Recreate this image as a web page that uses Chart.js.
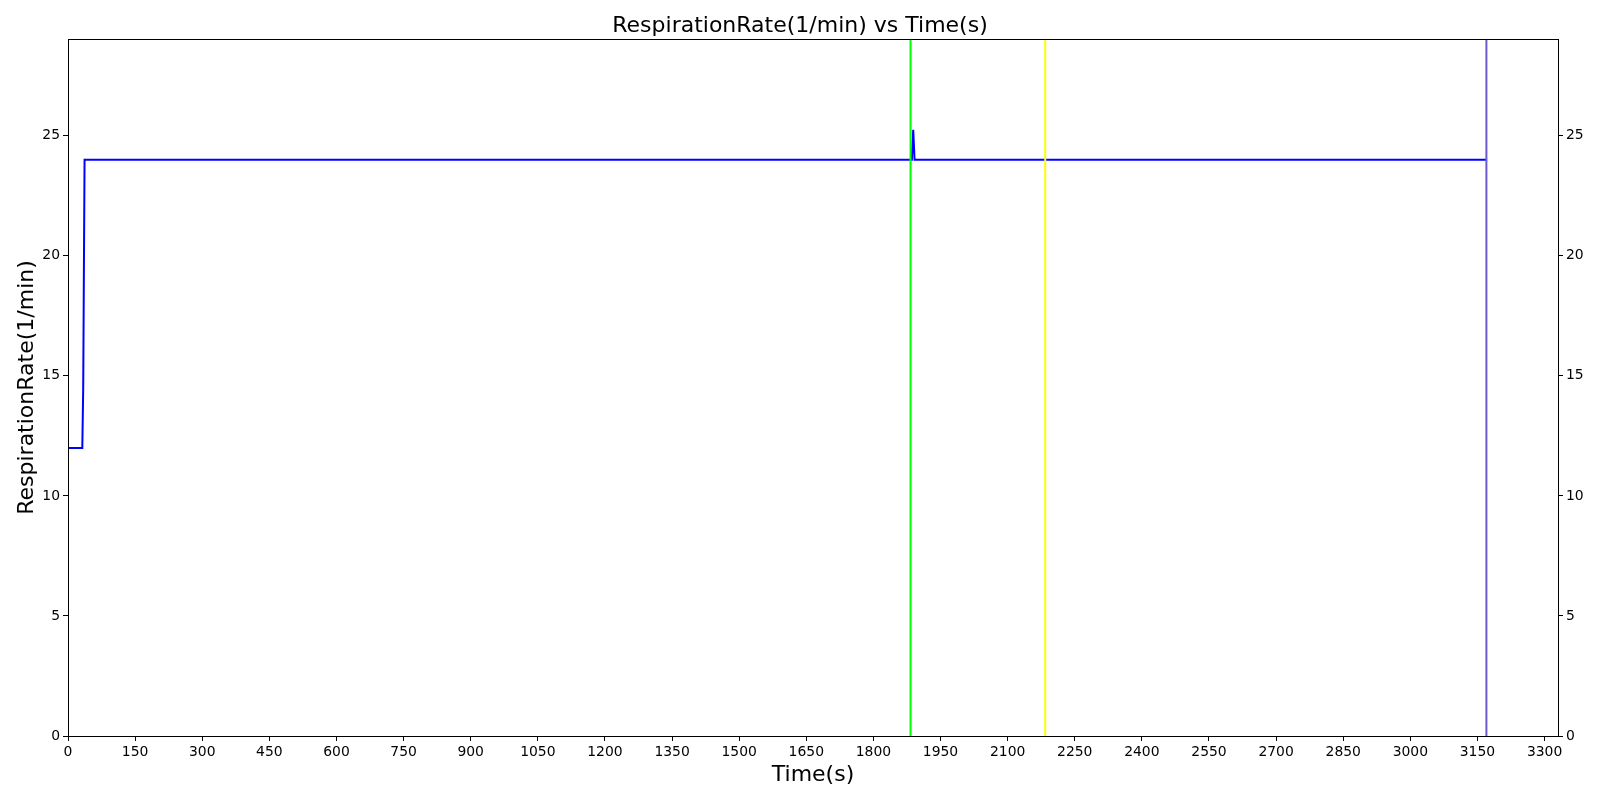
<!DOCTYPE html>
<html>
<head>
<meta charset="utf-8">
<script src="https://cdn.jsdelivr.net/npm/chart.js"></script>
<style>
  html, body { margin: 0; padding: 0; background: #fff; }
  #wrap { width: 1600px; height: 800px; }
</style>
</head>
<body>
<div id="wrap"><canvas id="respChart"></canvas></div>
<script>
// ============================================================
// data
// ============================================================
const timeS = [0, 32, 34, 37, 1886, 1889, 1892, 3170];
const respRate = [12, 12, 14.5, 24, 24, 25.25, 24, 24];

const eventTimes = [1883, 2184, 3170];
const eventColors = ['#00ff00', '#ffff00', '#6a5acd'];

const xTicks = [0, 150, 300, 450, 600, 750, 900, 1050, 1200, 1350, 1500, 1650,
    1800, 1950, 2100, 2250, 2400, 2550, 2700, 2850, 3000, 3150, 3300];
const yTicks = [0, 5, 10, 15, 20, 25];

const xMax = 3330;
const yMax = 29.03;

Chart.defaults.font.family = 'DejaVu Sans';
Chart.defaults.color = '#000';

// frame around the plot area (matplotlib style box)
const frameBox = {
    id: 'frameBox',
    afterDraw(chart) {
        const { ctx, chartArea: a } = chart;
        ctx.save();
        ctx.strokeStyle = '#000';
        ctx.lineWidth = 1;
        ctx.strokeRect(a.left + 0.5, a.top + 0.5, a.right - a.left, a.bottom - a.top);
        ctx.restore();
    }
};

const mainSeries = {
    label: 'RespirationRate(1/min)',
    data: timeS.map((t, i) => ({ x: t, y: respRate[i] })),
    borderColor: '#0000ff',
    borderWidth: 2,
    pointRadius: 0,
    tension: 0,
    yAxisID: 'y'
};

const eventLines = eventTimes.map((t, i) => ({
    label: 'event ' + (i + 1),
    data: [{ x: t, y: 0 }, { x: t, y: yMax }],
    borderColor: eventColors[i],
    borderWidth: 2,
    pointRadius: 0,
    yAxisID: 'y'
}));

const tickFont = { size: 13.9 };
const plain = v => String(v);

new Chart(document.getElementById('respChart'), {
    type: 'line',
    data: { datasets: [...eventLines, mainSeries] },
    plugins: [frameBox],
    options: {
        responsive: true,
        maintainAspectRatio: false,
        animation: false,
        layout: { padding: 0 },
        plugins: {
            legend: { display: false },
            tooltip: { enabled: false },
            title: {
                display: true,
                text: 'RespirationRate(1/min) vs Time(s)',
                font: { size: 22, weight: 'normal' },
                padding: { top: 12.6, bottom: 0 }
            }
        },
        scales: {
            x: {
                type: 'linear',
                min: 0,
                max: xMax,
                afterBuildTicks: s => { s.ticks = xTicks.map(v => ({ value: v })); },
                afterFit: s => { s.height = 64; },
                ticks: { autoSkip: false, maxRotation: 0, font: tickFont, padding: 3, callback: plain },
                grid: { drawOnChartArea: false, tickLength: 5, tickColor: '#000' },
                border: { color: '#000', width: 1 },
                title: { display: true, text: 'Time(s)', font: { size: 22 }, padding: { top: 0, bottom: 12 } }
            },
            y: {
                position: 'left',
                min: 0,
                max: yMax,
                afterBuildTicks: s => { s.ticks = yTicks.map(v => ({ value: v })); },
                afterFit: s => { s.width = 68; },
                ticks: { font: tickFont, padding: 3, callback: plain },
                grid: { drawOnChartArea: false, tickLength: 5, tickColor: '#000' },
                border: { color: '#000', width: 1 },
                title: { display: true, text: 'RespirationRate(1/min)', font: { size: 22 }, padding: { top: 14, bottom: 0 } }
            },
            y2: {
                position: 'right',
                min: 0,
                max: yMax,
                afterBuildTicks: s => { s.ticks = yTicks.map(v => ({ value: v })); },
                afterFit: s => { s.width = 42; },
                ticks: { font: tickFont, padding: 3, callback: plain },
                grid: { drawOnChartArea: false, tickLength: 5, tickColor: '#000' },
                border: { color: '#000', width: 1 }
            }
        }
    }
});
</script>
</body>
</html>
